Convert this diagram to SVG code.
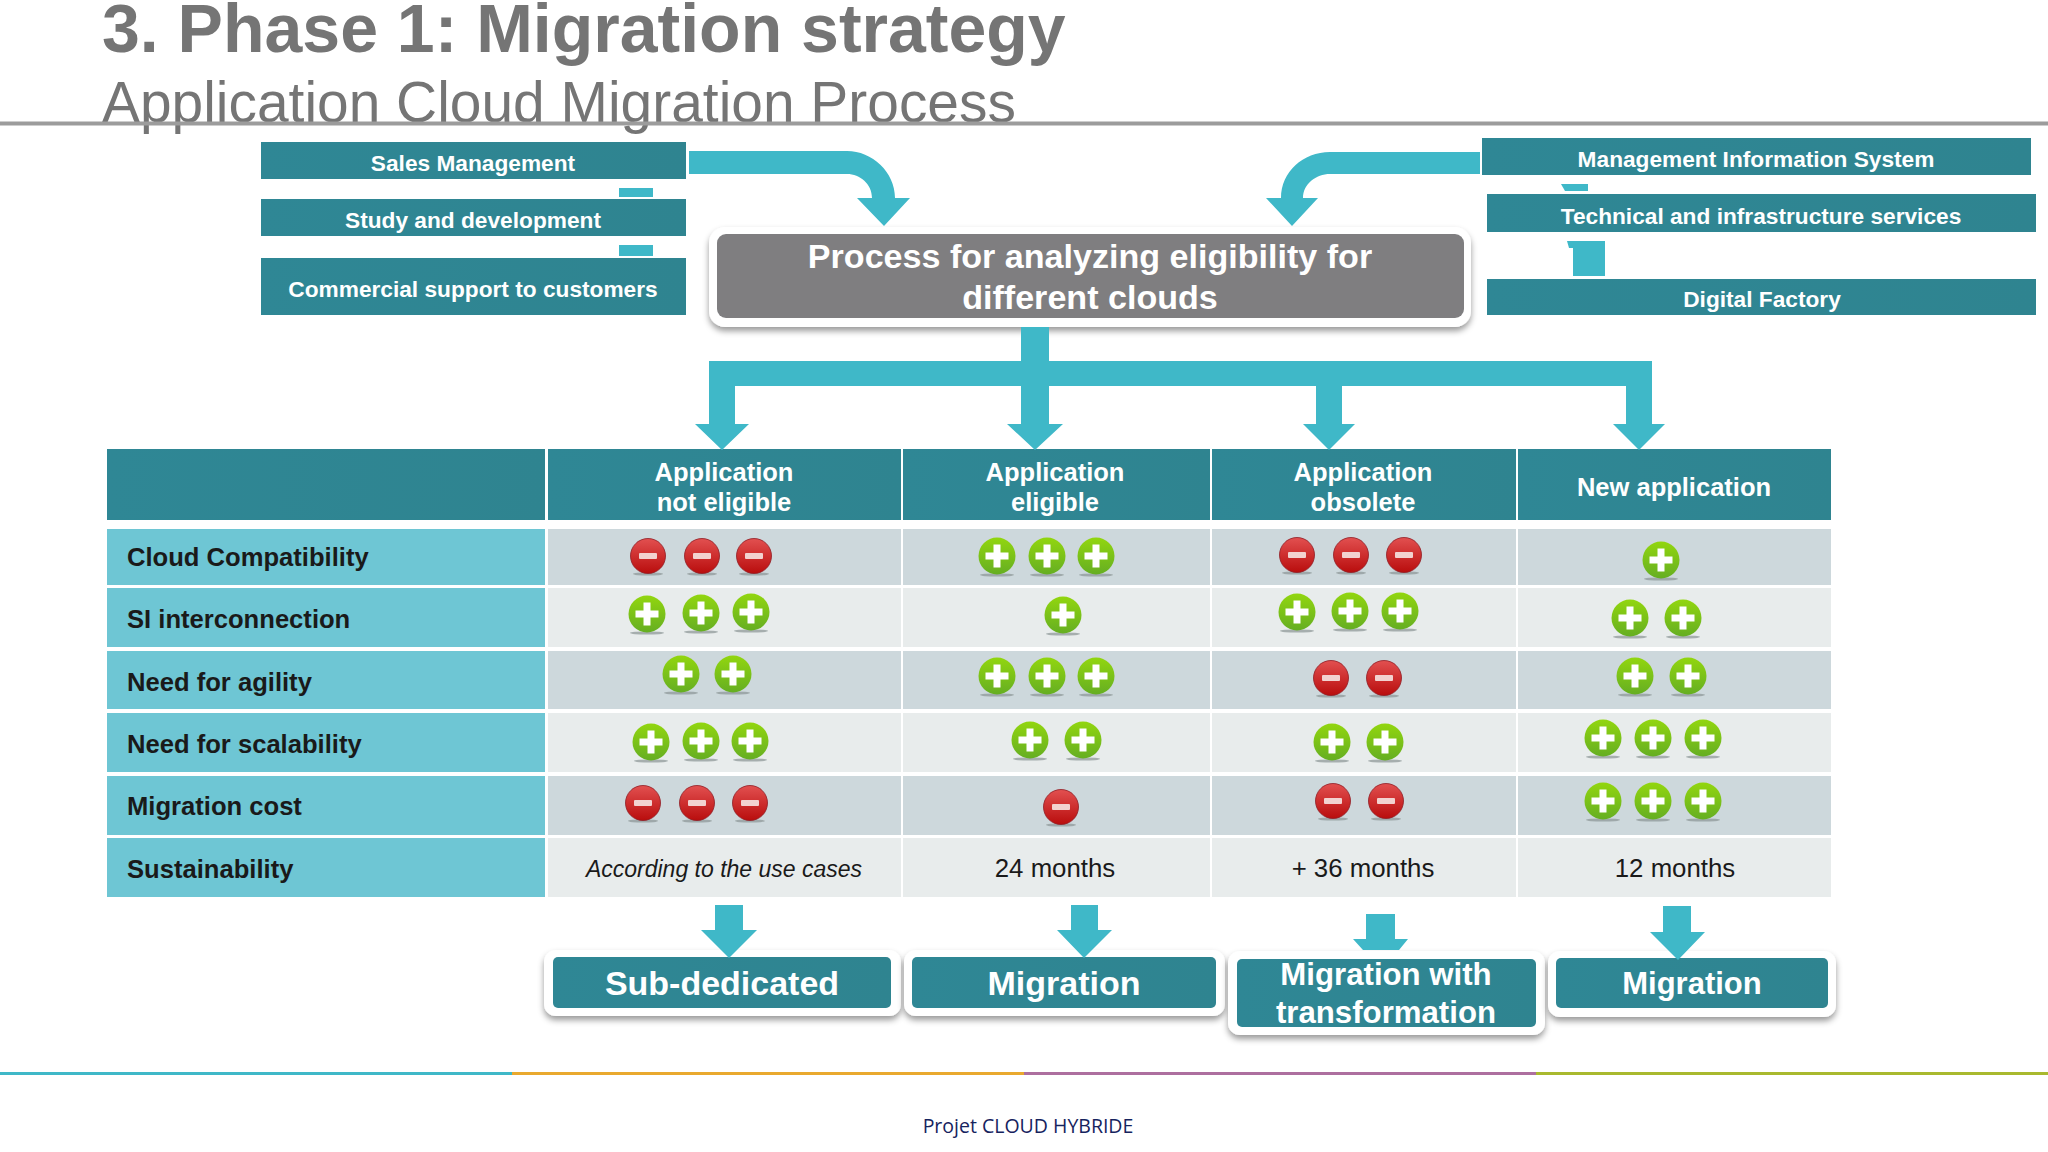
<svg xmlns="http://www.w3.org/2000/svg" width="2048" height="1152" viewBox="0 0 2048 1152">
<style>
text{font-family:"Liberation Sans",Arial,sans-serif}
.w{fill:#fff;font-weight:700;text-anchor:middle}
.b23{font-size:22.700px}
.h{font-size:25.500px}
.l{font-size:25.600px;font-weight:700;fill:#1a1a1a}
.v{font-size:25.800px;fill:#1a1a1a;text-anchor:middle}
.teal{fill:url(#t)}
.arr{fill:#3fb8c8}
.lab{fill:#6ec6d4}
.d{fill:#cdd8dc}
.e{fill:#e8ecec}
.card{fill:#fff;filter:url(#s)}
</style>
<defs>
<linearGradient id="t" x1="0" y1="0" x2="1" y2="0"><stop offset="0" stop-color="#2f8795"/><stop offset="1" stop-color="#2f8490"/></linearGradient>
<linearGradient id="g" x1="0" y1="0" x2="0" y2="1"><stop offset="0" stop-color="#92d60f"/><stop offset="1" stop-color="#65ae22"/></linearGradient>
<linearGradient id="r" x1="0" y1="0" x2="0" y2="1"><stop offset="0" stop-color="#e25050"/><stop offset="1" stop-color="#b90d0d"/></linearGradient>
<filter id="s" x="-10%" y="-20%" width="120%" height="150%"><feDropShadow dx="0" dy="4" stdDeviation="3" flood-color="#000" flood-opacity=".4"/></filter>
<g id="p"><ellipse cx="0" cy="19" rx="17" ry="1.600" fill="#8a9494" opacity=".7"/><circle r="18.500" fill="url(#g)"/><path d="M-3.500-11.500h7v8h8v7h-8v8h-7v-8h-8v-7h8z" fill="#fff"/></g>
<g id="m"><ellipse cx="0" cy="18" rx="15" ry="1.600" fill="#8a9494" opacity=".7"/><circle r="17.500" fill="url(#r)" stroke="#8f1a22" stroke-width=".8"/><rect x="-9" y="-3" width="18" height="6" rx="1" fill="#f2d2d0"/></g>
</defs>
<rect width="2048" height="1152" fill="#fff"/>
<g id="title">
<text x="102" y="52" font-size="68" font-weight="700" fill="#757575">3. Phase 1: Migration strategy</text>
<text x="102" y="122" font-size="56.900" fill="#757575">Application Cloud Migration Process</text>
<rect x="0" y="121.500" width="2048" height="4" fill="#9c9c9c"/>
</g>
<g id="node-sales"><rect class="teal" x="261" y="142" width="425" height="37"/><text class="w b23" x="473" y="171">Sales Management</text></g>
<g id="node-study"><rect class="teal" x="261" y="199" width="425" height="37"/><text class="w b23" x="473" y="228">Study and development</text></g>
<g id="node-commercial"><rect class="teal" x="261" y="258" width="425" height="57"/><text class="w b23" x="473" y="297">Commercial support to customers</text></g>
<g id="node-mis"><rect class="teal" x="1482" y="138" width="549" height="37"/><text class="w b23" x="1756" y="167">Management Information System</text></g>
<g id="node-tech"><rect class="teal" x="1487" y="194" width="549" height="38"/><text class="w b23" x="1761" y="224">Technical and infrastructure services</text></g>
<g id="node-digital"><rect class="teal" x="1487" y="279" width="549" height="36"/><text class="w b23" x="1762" y="307">Digital Factory</text></g>
<g id="node-process">
<rect class="card" x="709" y="227" width="762" height="100" rx="16"/>
<rect x="717" y="234" width="747" height="84" rx="9" fill="#7f7e80"/>
<text class="w" font-size="34.100" x="1090" y="268">Process for analyzing eligibility for</text>
<text class="w" font-size="34.100" x="1090" y="309">different clouds</text>
</g>
<g id="table">
<rect class="teal" x="107" y="449" width="438" height="71"/>
<rect class="teal" x="548" y="449" width="353" height="71"/>
<rect class="teal" x="903" y="449" width="307" height="71"/>
<rect class="teal" x="1212" y="449" width="304" height="71"/>
<rect class="teal" x="1518" y="449" width="313" height="71"/>
<text class="w h" x="724" y="481">Application</text><text class="w h" x="724" y="511">not eligible</text>
<text class="w h" x="1055" y="481">Application</text><text class="w h" x="1055" y="511">eligible</text>
<text class="w h" x="1363" y="481">Application</text><text class="w h" x="1363" y="511">obsolete</text>
<text class="w h" x="1674" y="496">New application</text>

<rect class="lab" x="107" y="529" width="438" height="56"/>
<rect class="lab" x="107" y="588" width="438" height="59"/>
<rect class="lab" x="107" y="651" width="438" height="58"/>
<rect class="lab" x="107" y="713" width="438" height="59"/>
<rect class="lab" x="107" y="776" width="438" height="59"/>
<rect class="lab" x="107" y="838" width="438" height="59"/>

<rect class="d" x="548" y="529" width="353" height="56"/><rect class="d" x="903" y="529" width="307" height="56"/><rect class="d" x="1212" y="529" width="304" height="56"/><rect class="d" x="1518" y="529" width="313" height="56"/>
<rect class="e" x="548" y="588" width="353" height="59"/><rect class="e" x="903" y="588" width="307" height="59"/><rect class="e" x="1212" y="588" width="304" height="59"/><rect class="e" x="1518" y="588" width="313" height="59"/>
<rect class="d" x="548" y="651" width="353" height="58"/><rect class="d" x="903" y="651" width="307" height="58"/><rect class="d" x="1212" y="651" width="304" height="58"/><rect class="d" x="1518" y="651" width="313" height="58"/>
<rect class="e" x="548" y="713" width="353" height="59"/><rect class="e" x="903" y="713" width="307" height="59"/><rect class="e" x="1212" y="713" width="304" height="59"/><rect class="e" x="1518" y="713" width="313" height="59"/>
<rect class="d" x="548" y="776" width="353" height="59"/><rect class="d" x="903" y="776" width="307" height="59"/><rect class="d" x="1212" y="776" width="304" height="59"/><rect class="d" x="1518" y="776" width="313" height="59"/>
<rect class="e" x="548" y="838" width="353" height="59"/><rect class="e" x="903" y="838" width="307" height="59"/><rect class="e" x="1212" y="838" width="304" height="59"/><rect class="e" x="1518" y="838" width="313" height="59"/>

<text class="l" x="127" y="566">Cloud Compatibility</text>
<text class="l" x="127" y="628">SI interconnection</text>
<text class="l" x="127" y="691">Need for agility</text>
<text class="l" x="127" y="753">Need for scalability</text>
<text class="l" x="127" y="815">Migration cost</text>
<text class="l" x="127" y="878">Sustainability</text>

<use href="#m" x="648" y="556"/><use href="#m" x="702" y="556"/><use href="#m" x="754" y="556"/>
<use href="#p" x="647" y="614"/><use href="#p" x="701" y="613"/><use href="#p" x="751" y="612"/>
<use href="#p" x="681" y="674"/><use href="#p" x="733" y="674"/>
<use href="#p" x="651" y="742"/><use href="#p" x="701" y="741"/><use href="#p" x="750" y="741"/>
<use href="#m" x="643" y="803"/><use href="#m" x="697" y="803"/><use href="#m" x="750" y="803"/>

<use href="#p" x="997" y="556"/><use href="#p" x="1047" y="556"/><use href="#p" x="1096" y="556"/>
<use href="#p" x="1063" y="615"/>
<use href="#p" x="997" y="676"/><use href="#p" x="1047" y="676"/><use href="#p" x="1096" y="676"/>
<use href="#p" x="1030" y="740"/><use href="#p" x="1083" y="740"/>
<use href="#m" x="1061" y="807"/>

<use href="#m" x="1297" y="555"/><use href="#m" x="1351" y="555"/><use href="#m" x="1404" y="555"/>
<use href="#p" x="1297" y="612"/><use href="#p" x="1350" y="611"/><use href="#p" x="1400" y="611"/>
<use href="#m" x="1331" y="678"/><use href="#m" x="1384" y="678"/>
<use href="#p" x="1332" y="742"/><use href="#p" x="1385" y="742"/>
<use href="#m" x="1333" y="801"/><use href="#m" x="1386" y="801"/>

<use href="#p" x="1661" y="560"/>
<use href="#p" x="1630" y="618"/><use href="#p" x="1683" y="618"/>
<use href="#p" x="1635" y="676"/><use href="#p" x="1688" y="676"/>
<use href="#p" x="1603" y="738"/><use href="#p" x="1653" y="738"/><use href="#p" x="1703" y="738"/>
<use href="#p" x="1603" y="801"/><use href="#p" x="1653" y="801"/><use href="#p" x="1703" y="801"/>

<text class="v" x="724" y="877" font-style="italic" style="font-size:23px">According to the use cases</text>
<text class="v" x="1055" y="877">24 months</text>
<text class="v" x="1363" y="877">+ 36 months</text>
<text class="v" x="1675" y="877">12 months</text>
</g>
<g id="node-sub-dedicated"><rect class="card" x="544" y="950" width="357" height="66" rx="12"/><rect class="teal" x="553" y="957" width="338" height="51" rx="5"/><text class="w" font-size="34" x="722" y="995">Sub-dedicated</text></g>
<g id="node-migration-1"><rect class="card" x="904" y="950" width="321" height="66" rx="12"/><rect class="teal" x="912" y="957" width="304" height="51" rx="5"/><text class="w" font-size="34" x="1064" y="995">Migration</text></g>
<g id="node-migration-transformation"><rect class="card" x="1228" y="951" width="317" height="84" rx="12"/><rect class="teal" x="1237" y="959" width="299" height="68" rx="5"/><text class="w" font-size="31.200" x="1386" y="985">Migration with</text><text class="w" font-size="31.200" x="1386" y="1023">transformation</text></g>
<g id="node-migration-2"><rect class="card" x="1548" y="951" width="288" height="66" rx="12"/><rect class="teal" x="1556" y="958" width="272" height="50" rx="5"/><text class="w" font-size="31" x="1692" y="994">Migration</text></g>
<g id="connectors">
<path class="arr" d="M689 151H847C872 151 895 172 895 198H910L884 226L857 198H872C872 184 860 174 847 174H689Z"/>
<path class="arr" d="M1480 152H1330C1303 152 1281 172 1281 198H1266L1292 226L1318 198H1303C1303 184 1316 174 1330 174H1480Z"/>
<rect class="arr" x="619" y="188" width="34" height="9"/>
<rect class="arr" x="619" y="245" width="34" height="11"/>
<path class="arr" d="M1561 184H1588V191H1565Z"/>
<path class="arr" d="M1567 241H1605V276H1573V248H1569Z"/>
<path class="arr" d="M1021 327H1049V361H1652V424H1665L1639 450L1613 424H1626V386H1342V424H1355L1329 450L1303 424H1316V386H1049V424H1063L1035 450L1007 424H1021V386H735V424H749L722 450L695 424H709V361H1021Z"/>
<path class="arr" d="M715 905H743V930H757L729 958L701 930H715Z"/>
<path class="arr" d="M1071 905H1098V930H1112L1084 958L1057 930H1071Z"/>
<path class="arr" d="M1366 914H1395V939H1408L1399 950H1363L1353 939H1366Z"/>
<path class="arr" d="M1663 906H1691V932H1705L1678 960L1650 932H1663Z"/>
</g>
<g id="footer">
<rect x="0" y="1072" width="512" height="3" fill="#3fb8c8"/>
<rect x="512" y="1072" width="512" height="3" fill="#e9a92e"/>
<rect x="1024" y="1072" width="512" height="3" fill="#ad6f9f"/>
<rect x="1536" y="1072" width="512" height="3" fill="#a9b92e"/>
<text x="1028" y="1133" font-size="19.500" fill="#16235e" text-anchor="middle" style="font-family:'Open Sans','Noto Sans',sans-serif">Projet CLOUD HYBRIDE</text>
</g>
</svg>
